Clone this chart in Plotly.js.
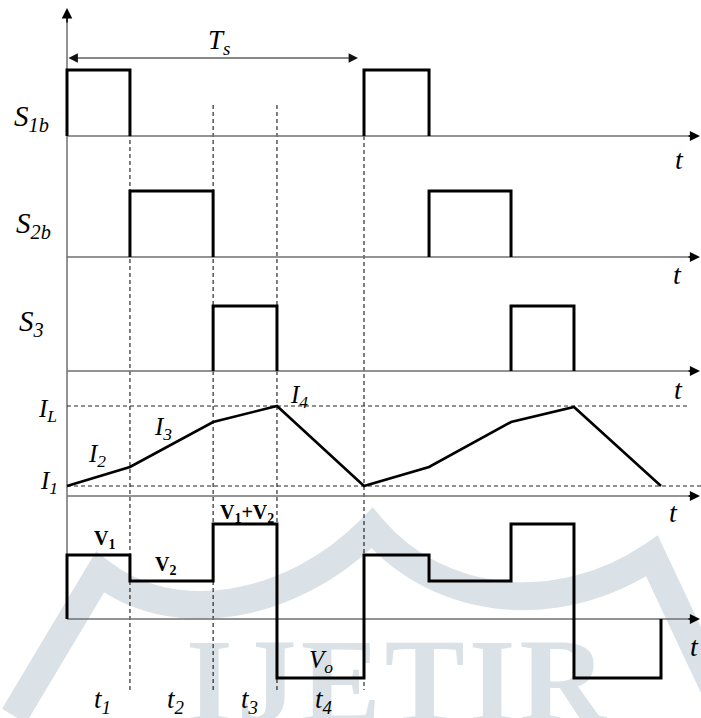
<!DOCTYPE html>
<html><head><meta charset="utf-8">
<script src="https://cdn.plot.ly/plotly-3.0.1.min.js"></script>
<style>html,body{margin:0;padding:0;background:#fff}#chart{width:701px;height:718px}</style>
</head><body><div id="chart"></div>
<script>
// ---- data (time in units of the switching period Ts, two periods shown) ----
const times = [0, 0.212, 0.492, 0.707, 1.0, 1.219, 1.495, 1.707, 2.0];
const intervalLabels = ['t<sub>1</sub>', 't<sub>2</sub>', 't<sub>3</sub>', 't<sub>4</sub>'];
const gateNames = ['S<sub>1b</sub>', 'S<sub>2b</sub>', 'S<sub>3</sub>'];
const gateS1b = [1, 0, 0, 0, 1, 0, 0, 0];
const gateS2b = [0, 1, 0, 0, 0, 1, 0, 0];
const gateS3  = [0, 0, 1, 0, 0, 0, 1, 0];
const currentIL = [1.0, 2.9, 7.4, 9.0, 1.0, 2.9, 7.4, 8.9, 1.0];
const currentLabels = ['I<sub>1</sub>', 'I<sub>2</sub>', 'I<sub>3</sub>', 'I<sub>4</sub>', 'I<sub>L</sub>'];
const voltageLevels = [6.4, 3.8, 9.5, -5.9, 6.4, 3.8, 9.5, -5.9];
const voltageLabels = ['V<sub>1</sub>', 'V<sub>2</sub>', 'V<sub>1</sub>+V<sub>2</sub>', 'V<sub>o</sub>'];
const periodLabel = 'T<sub>s</sub>';
const timeAxisLabel = 't';

// ---- layout helpers (pixel geometry of the 701x718 figure) ----
const W = 701, H = 718, X0 = 67, PX_TS = 297;
const xRange = [-X0 / PX_TS, (W - X0) / PX_TS];
const px2paperX = p => p / W;
const px2paperY = p => 1 - p / H;
function yAx(top, bottom, basePx, ppu) {
  return {domain: [1 - bottom / H, 1 - top / H],
          range: [-(bottom - basePx) / ppu, (basePx - top) / ppu],
          visible: false, fixedrange: true, anchor: 'x'};
}

function pulses(states) {
  const x = [], y = [];
  states.forEach((s, i) => {
    if (s) { x.push(times[i], times[i], times[i + 1], times[i + 1], null); y.push(0, 1, 1, 0, null); }
  });
  return {x, y};
}
function steps(levels) {
  const x = [times[0]], y = [0];
  levels.forEach((v, i) => { x.push(times[i], times[i + 1]); y.push(v, v); });
  x.push(times[levels.length]); y.push(0);
  return {x, y};
}

const black = '#000';
const waveLine = {color: black, width: 3};
const traces = [];
[[gateS1b, 'y'], [gateS2b, 'y2'], [gateS3, 'y3']].forEach(([g, ya]) => {
  const p = pulses(g);
  traces.push({x: p.x, y: p.y, xaxis: 'x', yaxis: ya, mode: 'lines', line: waveLine, hoverinfo: 'skip', connectgaps: false});
});
traces.push({x: times, y: currentIL, xaxis: 'x', yaxis: 'y4', mode: 'lines', line: {color: black, width: 2.6}, hoverinfo: 'skip'});
const vs = steps(voltageLevels);
traces.push({x: vs.x, y: vs.y, xaxis: 'x', yaxis: 'y5', mode: 'lines', line: waveLine, hoverinfo: 'skip'});

// ---- shapes ----
const axisGray = '#6f6f6f';
const shapes = [];
shapes.push({type: 'line', layer: 'below', xref: 'x', yref: 'paper', x0: 0, x1: 0, y0: px2paperY(619), y1: px2paperY(14), line: {color: axisGray, width: 1.5}});
['y', 'y2', 'y3', 'y4', 'y5'].forEach(ya => {
  shapes.push({type: 'line', layer: 'below', xref: 'x', yref: ya, x0: 0, x1: xRange[1] - 0.02, y0: 0, y1: 0, line: {color: axisGray, width: 1.5}});
});
[1, 2, 3, 4].forEach(i => {
  shapes.push({type: 'line', layer: 'below', xref: 'x', yref: 'paper', x0: times[i], x1: times[i],
    y0: px2paperY(i === 4 ? 136 : 105), y1: px2paperY(690), line: {color: black, width: 1, dash: '4px,3px'}});
});
shapes.push({type: 'line', layer: 'below', xref: 'x', yref: 'y4', x0: 0, x1: (688 - X0) / PX_TS, y0: currentIL[3], y1: currentIL[3], line: {color: '#222', width: 1, dash: '4px,3px'}});
shapes.push({type: 'line', layer: 'below', xref: 'x', yref: 'y4', x0: 0, x1: xRange[1], y0: currentIL[0], y1: currentIL[0], line: {color: '#222', width: 1, dash: '4px,3px'}});

// ---- annotations ----
const serif = "'Liberation Serif', 'Times New Roman', serif";
const ann = [];
function lab(text, px, py, size, opt) {
  ann.push(Object.assign({text, xref: 'paper', yref: 'paper', x: px2paperX(px), y: px2paperY(py),
    xanchor: 'center', yanchor: 'middle', showarrow: false, font: {family: serif, size, color: black}}, opt || {}));
}
ann.push({xref: 'x', yref: 'paper', x: times[4], y: px2paperY(58), axref: 'x', ayref: 'pixel', ax: times[0], ay: 0,
  text: '', showarrow: true, arrowside: 'end+start', arrowhead: 2, arrowsize: 1.7, arrowwidth: 1.1, arrowcolor: '#111', standoff: 6});
ann.push({xref: 'x', yref: 'paper', x: 0, y: px2paperY(8), ax: 0, ay: 16, text: '', showarrow: true,
  arrowhead: 2, arrowsize: 1.4, arrowwidth: 1.5, arrowcolor: black});
['y', 'y2', 'y3', 'y4', 'y5'].forEach(ya => {
  ann.push({xref: 'paper', yref: ya, x: 1, y: 0, ax: -14, ay: 0, text: '', showarrow: true,
    arrowhead: 2, arrowsize: 1.35, arrowwidth: 1.5, arrowcolor: black});
});
lab('<i>' + periodLabel + '</i>', 219, 42, 27);
lab('<i>' + gateNames[0] + '</i>', 31, 118, 29);
lab('<i>' + gateNames[1] + '</i>', 33, 225, 29);
lab('<i>' + gateNames[2] + '</i>', 31, 323, 29);
lab('<i>' + currentLabels[4] + '</i>', 47, 410, 25);
lab('<i>' + currentLabels[0] + '</i>', 49, 482, 25);
lab('<i>' + currentLabels[1] + '</i>', 97, 456, 25);
lab('<i>' + currentLabels[2] + '</i>', 163, 428, 25);
lab('<i>' + currentLabels[3] + '</i>', 299, 396, 25);
lab('<b>' + voltageLabels[0] + '</b>', 104, 539, 20);
lab('<b>' + voltageLabels[1] + '</b>', 165, 565, 20);
lab('<b>' + voltageLabels[2] + '</b>', 247, 513, 20);
lab('<i>' + voltageLabels[3] + '</i>', 321, 661, 25);
intervalLabels.forEach((t, i) => {
  ann.push({text: '<i>' + t + '</i>', xref: 'x', yref: 'paper', x: (times[i] + times[i + 1]) / 2, xshift: 4,
    y: px2paperY(701), xanchor: 'center', yanchor: 'middle', showarrow: false, font: {family: serif, size: 27, color: black}});
});
[[679, 159], [677, 274], [678, 389], [673, 512], [694, 646]].forEach(([px, py]) => lab('<i>' + timeAxisLabel + '</i>', px, py, 28));

// ---- faint watermark (decoration, behind everything) ----
const wm = "<svg xmlns='http://www.w3.org/2000/svg' width='701' height='718' viewBox='0 0 701 718'>" +
  "<path d='M 14 716 L 100 572 C 170 628, 290 612, 372 528 C 440 608, 560 618, 652 556 L 716 692' fill='none' stroke='#dbe2e7' stroke-width='28'/>" +
  "<text x='186' y='722' font-family='Liberation Serif' font-weight='bold' font-size='120' letter-spacing='4' fill='#dbe2e7'>IJETIR</text></svg>";

const layout = {
  width: W, height: H, margin: {l: 0, r: 0, t: 0, b: 0},
  paper_bgcolor: '#fff', plot_bgcolor: 'rgba(0,0,0,0)', showlegend: false,
  xaxis: {range: xRange, visible: false, fixedrange: true, domain: [0, 1], anchor: 'y'},
  yaxis: yAx(20, 150, 136, 66),
  yaxis2: yAx(150, 265, 257, 66),
  yaxis3: yAx(265, 385, 371, 65),
  yaxis4: yAx(385, 505, 496, 10),
  yaxis5: yAx(505, 718, 619, 10),
  shapes, annotations: ann,
  images: [{source: 'data:image/svg+xml;charset=utf-8,' + encodeURIComponent(wm), xref: 'paper', yref: 'paper',
    x: 0, y: 1, sizex: 1, sizey: 1, xanchor: 'left', yanchor: 'top', sizing: 'stretch', layer: 'below'}]
};
Plotly.newPlot('chart', traces, layout, {staticPlot: true, displayModeBar: false});
</script></body></html>
